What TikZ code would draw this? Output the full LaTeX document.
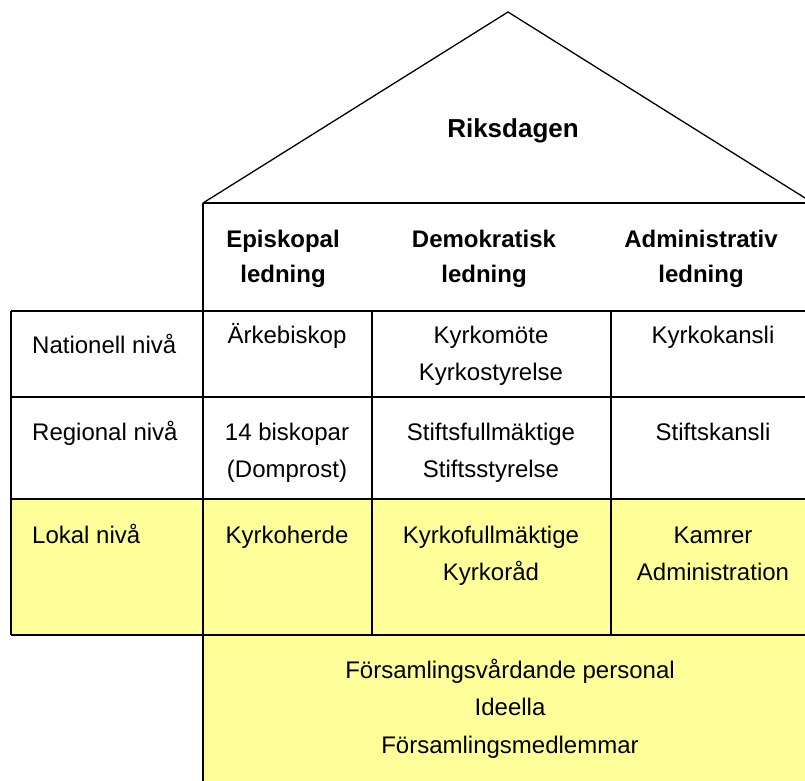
\documentclass[tikz,border=0pt]{standalone}
\usepackage{fontspec}
\setmainfont{Liberation Sans}
\definecolor{lokalgul}{HTML}{FFFF99}

\begin{document}
\begin{tikzpicture}[x=1pt,y=-1pt,
    rubrik/.style={font=\fontsize{24}{35}\selectfont\bfseries,align=center,anchor=base,inner sep=0pt},
    cell/.style={font=\fontsize{24}{37.5}\selectfont,align=center,anchor=base,inner sep=0pt},
    niva/.style={font=\fontsize{24}{37.5}\selectfont,anchor=base west,inner sep=0pt},
    linje/.style={line width=2pt}]
  \useasboundingbox (0,0) rectangle (805,780);
  \clip (0,0) rectangle (805,780);
  % gula delar
  \fill[lokalgul] (11,499) rectangle (813,635);
  \fill[lokalgul] (203,635) rectangle (813,790);
  % taket
  \draw[line width=1.3pt,line join=miter] (203,203) -- (508,12) -- (813,203);
  \draw[linje] (203,203) -- (813,203);
  \draw[linje] (203,203) -- (203,790);
  % tabellen
  \foreach \y in {311,397,499,635}
    \draw[linje] (11,\y) -- (813,\y);
  \foreach \x in {11,372,611}
    \draw[linje] (\x,311) -- (\x,635);

  % (base = sista raden)
  \node[rubrik,font=\fontsize{26}{30}\selectfont\bfseries] (riksdagen) at (513,137) {Riksdagen};
  \node[rubrik] (episkopal) at (283,282) {Episkopal\\ledning};
  \node[rubrik] (demokratisk) at (484,282) {Demokratisk\\ledning};
  \node[rubrik] (administrativ) at (701,282) {Administrativ\\ledning};

  \node[niva] (nationell) at (32,353) {Nationell nivå};
  \node[niva] (regional) at (32,440) {Regional nivå};
  \node[niva] (lokal) at (32,543) {Lokal nivå};

  \node[cell] (arkebiskop) at (287,343) {Ärkebiskop};
  \node[cell] (kyrkomote) at (491,380.5) {Kyrkomöte\\Kyrkostyrelse};
  \node[cell] (kyrkokansli) at (713,343) {Kyrkokansli};

  \node[cell] (biskopar) at (287,477.5) {14 biskopar\\(Domprost)};
  \node[cell] (stiftsfullm) at (491,477.5) {Stiftsfullmäktige\\Stiftsstyrelse};
  \node[cell] (stiftskansli) at (713,440) {Stiftskansli};

  \node[cell] (kyrkoherde) at (287,543) {Kyrkoherde};
  \node[cell] (kyrkofullm) at (491,580.5) {Kyrkofullmäktige\\Kyrkoråd};
  \node[cell] (kamrer) at (713,580.5) {Kamrer\\Administration};

  \node[cell] (forsamling) at (510,753) {Församlingsvårdande personal\\Ideella\\Församlingsmedlemmar};
\end{tikzpicture}
\end{document}
